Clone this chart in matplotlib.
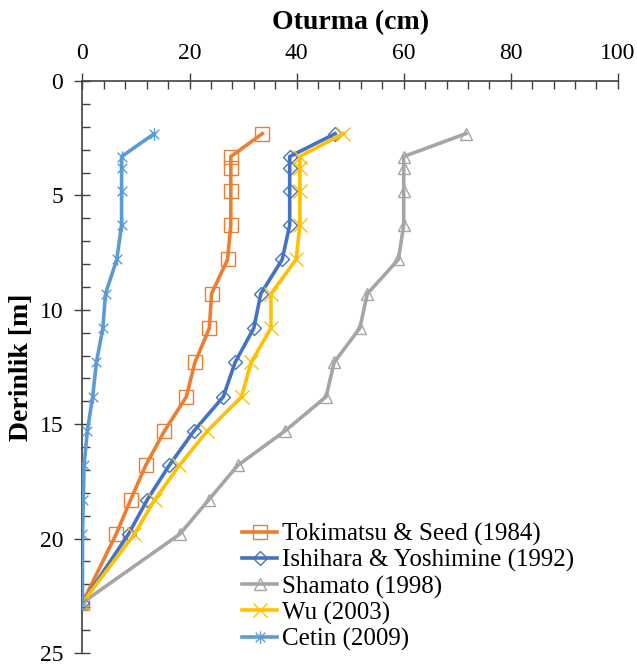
import matplotlib.pyplot as plt
from matplotlib.path import Path
from matplotlib.ticker import MultipleLocator

plt.rcParams["font.family"] = ["Liberation Serif", "DejaVu Serif"]

# Depth (m)
depth = [2.3, 3.3, 3.8, 4.8, 6.3, 7.8, 9.3, 10.8, 12.3, 13.8, 15.3, 16.8, 18.3, 19.8, 22.8]

# Settlement (cm)
tokimatsu = [33.6, 27.7, 27.7, 27.7, 27.7, 27.1, 24.1, 23.7, 21.0, 19.4, 15.3, 11.8, 9.0, 6.3, 0]
ishihara = [47.2, 38.7, 38.7, 38.7, 38.7, 37.3, 33.3, 32.0, 28.5, 26.3, 20.8, 16.2, 12.1, 8.6, 0]
shamato = [71.6, 60.0, 60.0, 60.0, 60.0, 59.0, 53.2, 51.8, 47.0, 45.5, 37.8, 29.0, 23.6, 18.2, 0]
wu = [48.7, 40.6, 40.6, 40.6, 40.6, 39.9, 35.2, 35.2, 31.5, 29.7, 23.3, 18.1, 13.5, 9.7, 0]
cetin = [13.4, 7.3, 7.3, 7.3, 7.3, 6.4, 4.3, 3.8, 2.6, 1.9, 0.9, 0.3, 0.15, 0, 0]

labels = ["Tokimatsu & Seed (1984)", "Ishihara & Yoshimine (1992)",
          "Shamato (1998)", "Wu (2003)", "Cetin (2009)"]

# Excel style star marker: X with a vertical bar
star = Path([(-1, -1), (1, 1), (-1, 1), (1, -1), (0, -1.3), (0, 1.3)],
            [Path.MOVETO, Path.LINETO, Path.MOVETO, Path.LINETO, Path.MOVETO, Path.LINETO])

series = [
    (tokimatsu, "#ED7D31", "s", 10),
    (ishihara, "#4472C4", "D", 7),
    (shamato, "#A5A5A5", "^", 9),
    (wu, "#FFC000", "x", 10),
    (cetin, "#5B9BD5", star, 9),
]

fig = plt.figure(figsize=(6.37, 6.67), dpi=100)
ax = fig.add_axes([0.1295, 0.021, 0.8405, 0.8575])

for (vals, color, mk, ms), lab in zip(series, labels):
    ax.plot(vals, depth, color=color, lw=2.6, marker=mk, ms=ms,
            mfc="none", mec=color, mew=1.0, label=lab, zorder=3)

ax.set_xlim(0, 100)
ax.set_ylim(25, 0)

ax.xaxis.tick_top()
ax.xaxis.set_label_position("top")
ax.xaxis.set_major_locator(MultipleLocator(20))
ax.xaxis.set_minor_locator(MultipleLocator(4))
ax.yaxis.set_major_locator(MultipleLocator(5))
ax.yaxis.set_minor_locator(MultipleLocator(1))

ax.tick_params(axis="both", which="major", direction="inout", length=12,
               width=1, color="#404040", labelsize=17, pad=6)
ax.tick_params(axis="both", which="minor", direction="in", length=6,
               width=1, color="#404040")
ax.tick_params(axis="y", which="major", pad=8)

for side in ["bottom", "right"]:
    ax.spines[side].set_visible(False)
for side in ["top", "left"]:
    ax.spines[side].set_color("#404040")
    ax.spines[side].set_linewidth(1.2)

ax.set_xlabel("Oturma (cm)", fontsize=20, fontweight="bold", labelpad=10)
ax.set_ylabel("Derinlik [m]", fontsize=20, fontweight="bold", labelpad=4)

leg = ax.legend(loc="lower left", bbox_to_anchor=(0.298, 0.004), frameon=False,
                fontsize=18, handlelength=1.4, handletextpad=0.18,
                labelspacing=0.12, borderaxespad=0, borderpad=0)

fig.savefig("out.png", dpi=100)
